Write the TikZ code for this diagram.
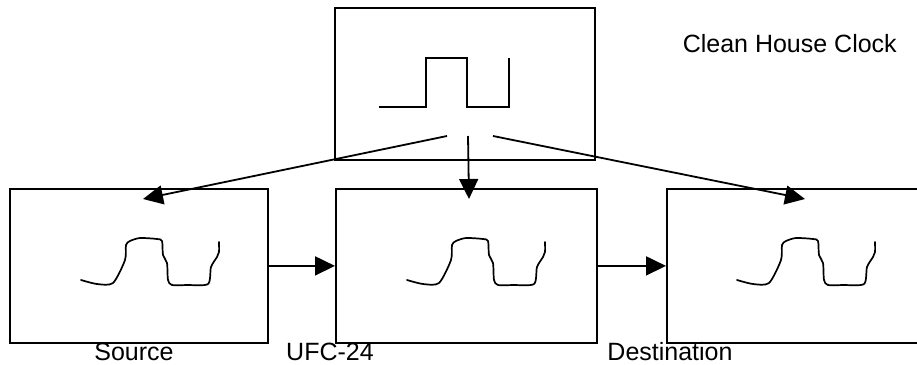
\documentclass[tikz,border=0pt]{standalone}
\usepackage{fontspec}
\setmainfont{Liberation Sans}
\usetikzlibrary{arrows.meta}
\begin{document}
\begin{tikzpicture}[x=1pt,y=-1pt,
  box/.style={draw,line width=1.8pt,inner sep=0pt},
  conn/.style={line width=1.8pt,-{Triangle[length=20pt,width=19pt]}},
  wave/.style={line width=1.7pt,line join=round,line cap=round},
  lbl/.style={font=\fontsize{25}{28}\selectfont,inner sep=0pt,anchor=base},
  wavy/.pic={\draw[wave] plot[smooth,tension=0.45] coordinates{(0,0) (16,4) (32,3) (44,-20) (45,-35) (49,-39) (59,-42) (76,-41) (81,-39) (82,-25) (86,-17) (87,0) (91,5) (106,5) (127,4) (130,-13) (136,-23) (138,-28) (138,-38)};}]
\useasboundingbox (0,0) rectangle (917,364);
% boxes
\draw[box] (335,8) rectangle (595,160);
\node[box,minimum width=258pt,minimum height=154pt,anchor=north west] (src) at (9,188) {};
\node[box,minimum width=261pt,minimum height=154pt,anchor=north west] (ufc) at (335,188) {};
\node[box,minimum width=260pt,minimum height=154pt,anchor=north west] (dst) at (666,188) {};
% clock square wave
\draw[wave,line cap=butt,line join=miter] (379,107) -- (426,107) -- (426,58) -- (467,58) -- (467,107) -- (509,107) -- (509,58);
% wavy signals
\pic at (81,280) {wavy};
\pic at (407,280) {wavy};
\pic at (737,280) {wavy};
% clock distribution
\coordinate (cl) at (447,136);
\coordinate (cm) at (468,136);
\coordinate (cr) at (493,136);
\coordinate (tl) at (143,199);
\coordinate (tm) at (469,199);
\coordinate (tr) at (805,199);
\draw[conn] (cl) -- (tl);
\draw[conn] (cm) -- (tm);
\draw[conn] (cr) -- (tr);
% data flow
\draw[conn] (src.east) -- (ufc.west);
\draw[conn] (ufc.east) -- (dst.west);
% labels
\node[lbl] (ls) at (134,360) {Source};
\node[lbl] (lu) at (330,360) {UFC-24};
\node[lbl] (ld) at (670,360) {Destination};
\node[lbl,anchor=base east] (lc) at (897,52) {Clean House Clock};
\end{tikzpicture}
\end{document}
